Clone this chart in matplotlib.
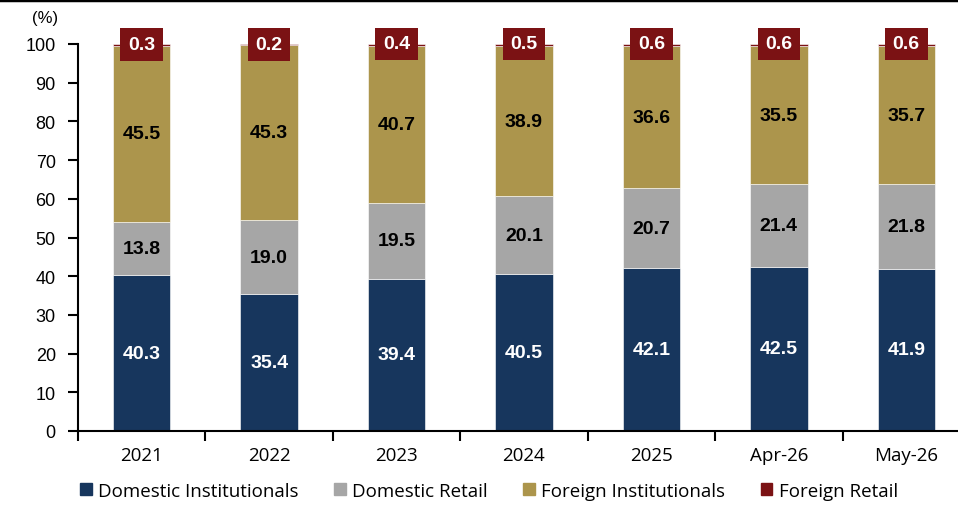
import matplotlib.pyplot as plt
from matplotlib.lines import Line2D
from matplotlib.patches import Patch
import numpy as np

# investor mix by period, % of total
periods = ['2021', '2022', '2023', '2024', '2025', 'Apr-26', 'May-26']
dom_inst = [40.3, 35.4, 39.4, 40.5, 42.1, 42.5, 41.9]
dom_retail = [13.8, 19.0, 19.5, 20.1, 20.7, 21.4, 21.8]
for_inst = [45.5, 45.3, 40.7, 38.9, 36.6, 35.5, 35.7]
for_retail = [0.3, 0.2, 0.4, 0.5, 0.6, 0.6, 0.6]

series_names = ['Domestic Institutionals', 'Domestic Retail',
                'Foreign Institutionals', 'Foreign Retail']
colors = ['#17365d', '#a6a6a6', '#ac954c', '#7b1214']
label_colors = ['white', 'black', 'black', 'white']

label_font = 'Liberation Sans'
cat_font = 'Open Sans'

fig = plt.figure(figsize=(9.58, 5.06), dpi=100)
ax = fig.add_axes([78 / 958, 74 / 506, 892 / 958, 387 / 506])

x = np.arange(len(periods))
width = 0.45
bottom = np.zeros(len(periods))
series = [dom_inst, dom_retail, for_inst, for_retail]
for k, vals in enumerate(series):
    vals = np.array(vals)
    ax.bar(x, vals, width, bottom=bottom, color=colors[k],
           edgecolor='white', linewidth=0.4, zorder=2)
    if k < 3:
        for xi, b, v in zip(x, bottom, vals):
            ax.text(xi, b + v / 2, f'{v:.1f}', ha='center', va='center',
                    fontsize=14, fontweight='bold', color=label_colors[k],
                    family=label_font, zorder=3)
    else:
        # small top slice gets a boxed label sitting on the bar top
        for xi, b, v in zip(x, bottom, vals):
            ax.text(xi, b + v, f'{v:.1f}', ha='center', va='center',
                    fontsize=14, fontweight='bold', color='white',
                    family=label_font, zorder=4,
                    bbox=dict(boxstyle='square,pad=0.4', fc=colors[k],
                              ec='none'))
    bottom += vals

ax.set_xlim(-0.5, len(periods) - 0.5)
ax.set_ylim(0, 100)
ax.set_yticks(range(0, 101, 10))
ax.set_xticks(x)
ax.set_xticklabels(periods, family=cat_font, fontsize=13.5)
ax.set_xticks(np.arange(len(periods)) - 0.5, minor=True)
ax.tick_params(axis='x', which='major', length=0, pad=11)
ax.tick_params(axis='x', which='minor', length=7, width=1.5, direction='out')
ax.tick_params(axis='y', length=7, width=1.5, direction='out', pad=9,
               labelsize=13)
for lab in ax.get_yticklabels():
    lab.set_family(label_font)

for side in ['top', 'right']:
    ax.spines[side].set_visible(False)
for side in ['left', 'bottom']:
    ax.spines[side].set_linewidth(1.5)

fig.text(45 / 958, 1 - 18 / 506, '(%)', ha='center', va='center',
         fontsize=12, family=label_font)

handles = [Patch(color=c) for c in colors]
fig.legend(handles, series_names, loc='center', ncol=4,
           bbox_to_anchor=(489 / 958, 1 - 492 / 506), frameon=False,
           prop={'family': cat_font, 'size': 13.5},
           handlelength=0.6, handleheight=0.6, handletextpad=0.35,
           columnspacing=1.9)

# rule across the top edge
fig.add_artist(Line2D([0, 1], [0.998, 0.998], color='black', lw=2.5,
                      transform=fig.transFigure))

fig.savefig('out.png', dpi=100)
